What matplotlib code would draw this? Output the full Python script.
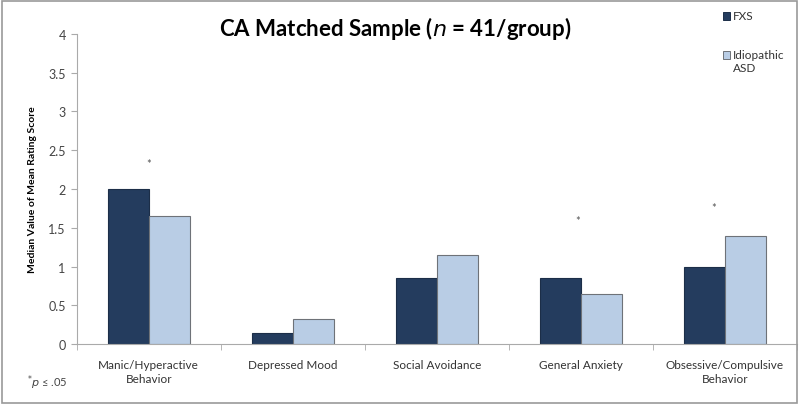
import matplotlib.pyplot as plt
import matplotlib.transforms as mtransforms
import numpy as np

plt.rcParams['font.family'] = ['Lato', 'DejaVu Sans']

categories = ["Manic/Hyperactive\nBehavior", "Depressed Mood", "Social Avoidance",
              "General Anxiety", "Obsessive/Compulsive\nBehavior"]
fxs = [2.0, 0.14, 0.85, 0.85, 1.0]
asd = [1.65, 0.33, 1.15, 0.65, 1.4]
# significance stars: (category index, x offset, height)
stars = [(0, 0.0, 2.38), (3, -0.02, 1.65), (4, -0.08, 1.82)]

fxs_col, fxs_edge = '#243c5e', '#1c2e48'
asd_col, asd_edge = '#b9cde5', '#6e7278'

fig = plt.figure(figsize=(8, 4.06), dpi=100)
ax = fig.add_axes([0.096, 0.150, 0.90, 0.764])

x = np.arange(len(categories))
w = 0.285
ax.bar(x - w / 2, fxs, w, color=fxs_col, edgecolor=fxs_edge, linewidth=0.8)
ax.bar(x + w / 2, asd, w, color=asd_col, edgecolor=asd_edge, linewidth=0.8)

star_tr = ax.transData + mtransforms.ScaledTranslation(0, -3 / 72, fig.dpi_scale_trans)
for i, dx, h in stars:
    ax.text(i + dx, h, '*', ha='center', va='center', fontsize=8, color='#555555',
            transform=star_tr)

ax.set_xlim(-0.5, len(categories) - 0.5)
ax.set_ylim(0, 4)
ax.set_yticks(np.arange(0, 4.01, 0.5))
ax.set_yticklabels(['0', '0.5', '1', '1.5', '2', '2.5', '3', '3.5', '4'], color='#444444', fontsize=9)
ax.set_xticks(x)
ax.set_xticklabels(categories, fontsize=8.5, color='#333333', linespacing=1.3)
ax.tick_params(axis='x', length=0, pad=11)
ax.set_xticks(np.arange(-0.5, len(categories)), minor=True)
ax.tick_params(axis='x', which='minor', length=4, color='#aaaaaa')
ax.tick_params(axis='y', length=4, color='#aaaaaa', pad=4)
for s in ['top', 'right']:
    ax.spines[s].set_visible(False)
ax.spines['left'].set_color('#aaaaaa')
ax.spines['bottom'].set_color('#aaaaaa')

ax.set_ylabel('Median Value of Mean Rating Score', fontsize=7.5, fontweight='bold', labelpad=8)

fig.text(0.494, 0.93, r'CA Matched Sample ($\it{n}$ = 41/group)', ha='center', va='center',
         fontsize=16, fontweight='bold')

# legend, laid out like the original (swatch next to first line of label)
legend_items = [('FXS', fxs_col, fxs_edge, 0.958), ('Idiopathic\nASD', asd_col, asd_edge, 0.862)]
for label, col, edge, yc in legend_items:
    fig.patches.append(plt.Rectangle((0.904, yc - 0.010), 0.0085, 0.020, transform=fig.transFigure,
                                     facecolor=col, edgecolor=edge, linewidth=0.7))
    fig.text(0.916, yc + 0.016, label, ha='left', va='top', fontsize=8.5, color='#333333',
             linespacing=1.3)

fig.text(0.034, 0.047, r'$^{*}$$\it{p}$ ≤ .05', fontsize=8, color='#444444')

fig.patches.append(plt.Rectangle((0.003, 0.005), 0.993, 0.99, transform=fig.transFigure,
                                 fill=False, edgecolor='#999999', linewidth=1.2))

fig.savefig('out.png', dpi=100)
